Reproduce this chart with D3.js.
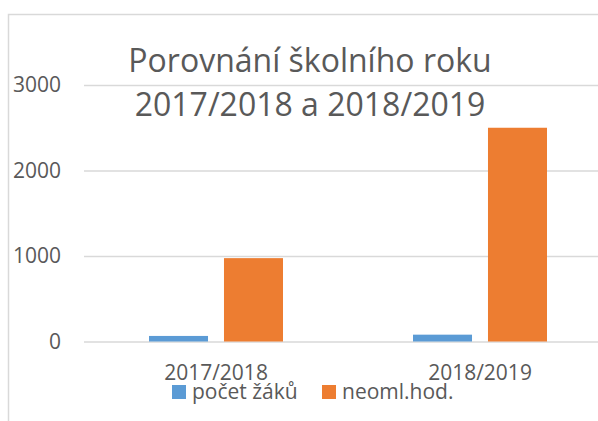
<!DOCTYPE html>
<html>
<head>
<meta charset="utf-8">
<script src="https://cdn.jsdelivr.net/npm/d3@7/dist/d3.min.js"></script>
<style>
  html, body { margin: 0; padding: 0; background: #fff; }
  svg { display: block; font-family: "Open Sans", sans-serif; }
</style>
</head>
<body>
<svg id="chart" width="598" height="421"></svg>
<script>
const categories = ["2017/2018", "2018/2019"];
const seriesNames = ["počet žáků", "neoml.hod."];
const pocetZaku = [65, 80];
const neomlHod = [975, 2500];
const yTicks = [0, 1000, 2000, 3000];
const titleLines = ["Porovnání školního roku", "2017/2018 a 2018/2019"];
const colors = ["#5b9bd5", "#ed7d31"];

const seriesValues = [pocetZaku, neomlHod];
const svg = d3.select("#chart");
const textColor = "#595959";
const gridColor = "#d9d9d9";

// chart frame
svg.append("rect")
  .attr("x", 8.5).attr("y", 14.5)
  .attr("width", 620).attr("height", 440)
  .attr("fill", "#fff").attr("stroke", gridColor).attr("stroke-width", 1.5);

const plot = { left: 84, right: 612, top: 85, bottom: 341.5 };

const x0 = d3.scaleBand().domain(categories).range([plot.left, plot.right]).padding(0);
const x1 = d3.scaleBand().domain(seriesNames).range([0, x0.bandwidth()])
  .paddingInner(0.213).paddingOuter(0.867);
const y = d3.scaleLinear().domain([0, 3000]).range([plot.bottom, plot.top]);

// gridlines + y labels
const yAxis = d3.axisLeft(y).tickValues(yTicks).tickFormat(d3.format("d"))
  .tickSize(-(plot.right - plot.left)).tickPadding(23);
const gy = svg.append("g").attr("transform", `translate(${plot.left},0)`).call(yAxis);
gy.select(".domain").remove();
gy.selectAll(".tick line").attr("stroke", gridColor).attr("stroke-width", 1.5);
gy.selectAll(".tick text").attr("fill", textColor)
  .style("font-size", "21px").style("font-family", "'Open Sans', sans-serif");

// bars
const groups = svg.append("g").selectAll("g").data(categories).join("g")
  .attr("transform", d => `translate(${x0(d)},0)`);
groups.selectAll("rect")
  .data((c, ci) => seriesNames.map((s, si) => ({ s, si, v: seriesValues[si][ci] })))
  .join("rect")
  .attr("x", d => x1(d.s))
  .attr("width", x1.bandwidth())
  .attr("y", d => y(d.v))
  .attr("height", d => y(0) - y(d.v))
  .attr("fill", d => colors[d.si]);

// x labels
const xAxis = d3.axisBottom(x0).tickSize(0).tickPadding(0);
const gx = svg.append("g").attr("transform", `translate(0,${plot.bottom})`).call(xAxis);
gx.select(".domain").remove();
gx.selectAll(".tick text").attr("fill", textColor).attr("dy", null).attr("y", 38.5)
  .style("font-size", "21px").style("font-family", "'Open Sans', sans-serif");

// title
svg.append("g").selectAll("text").data(titleLines).join("text")
  .attr("x", 310).attr("y", (d, i) => 71.5 + i * 44)
  .attr("text-anchor", "middle")
  .attr("fill", textColor)
  .style("font-size", "32px")
  .text(d => d);

// legend
const legendX = [172, 322];
const lg = svg.append("g").selectAll("g").data(seriesNames).join("g")
  .attr("transform", (d, i) => `translate(${legendX[i]},385)`);
lg.append("rect").attr("width", 14).attr("height", 14).attr("fill", (d, i) => colors[i]);
lg.append("text").attr("x", 20).attr("y", 14)
  .attr("fill", textColor).style("font-size", "21px").text(d => d);
</script>
</body>
</html>
